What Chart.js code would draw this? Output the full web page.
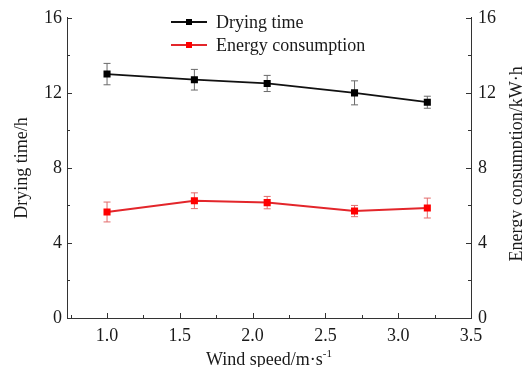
<!DOCTYPE html>
<html>
<head>
<meta charset="utf-8">
<script src="https://cdn.jsdelivr.net/npm/chart.js@4.4.1/dist/chart.umd.min.js"></script>
<style>
  html, body { margin: 0; padding: 0; background: #fff; }
  #wrap { width: 522px; height: 367px; }
</style>
</head>
<body>
<div id="wrap"><canvas id="c" width="522" height="367"></canvas></div>
<script>
// Wind speed (m/s) and the measured responses with their error bars
const windSpeed = [1.0, 1.6, 2.1, 2.7, 3.2];
const dryingTime = [13.0, 12.7, 12.5, 12.0, 11.5];
const dryingTimeErr = [0.57, 0.55, 0.43, 0.64, 0.32];
const energyUse = [5.65, 6.25, 6.15, 5.7, 5.86];
const energyUseErr = [0.53, 0.42, 0.33, 0.3, 0.53];

// Axis tick labels
const xTicks = [1.0, 1.5, 2.0, 2.5, 3.0, 3.5];
const xMinorTicks = [0.75, 1.25, 1.75, 2.25, 2.75, 3.25];
const yTicks = [0, 4, 8, 12, 16];
const yMinorTicks = [2, 6, 10, 14];

const FONT = '"Liberation Serif", "Times New Roman", serif';
const AXIS_COLOR = '#333';
const TEXT_COLOR = '#1a1a1a';

const toPoints = (ys) => windSpeed.map((x, i) => ({ x, y: ys[i] }));

// Vertical error bars with caps, drawn beneath lines and markers
const errorBars = {
  id: 'errorBars',
  beforeDatasetsDraw(chart) {
    const ctx = chart.ctx;
    const xs = chart.scales.x;
    chart.data.datasets.forEach((ds) => {
      const ys = chart.scales[ds.yAxisID];
      ctx.save();
      ctx.strokeStyle = ds.errColor;
      ctx.lineWidth = 1;
      ds.data.forEach((p, i) => {
        const e = ds.errors[i];
        const px = xs.getPixelForValue(p.x);
        const top = ys.getPixelForValue(p.y + e);
        const bot = ys.getPixelForValue(p.y - e);
        ctx.beginPath();
        ctx.moveTo(px, top); ctx.lineTo(px, bot);
        ctx.moveTo(px - 3.5, top); ctx.lineTo(px + 3.5, top);
        ctx.moveTo(px - 3.5, bot); ctx.lineTo(px + 3.5, bot);
        ctx.stroke();
      });
      ctx.restore();
    });
  }
};

// Inward-pointing major and minor tick marks on all three axes
const innerTicks = {
  id: 'innerTicks',
  afterDraw(chart) {
    const ctx = chart.ctx;
    const a = chart.chartArea;
    const { x, y, y1 } = chart.scales;
    ctx.save();
    ctx.strokeStyle = AXIS_COLOR;
    ctx.lineWidth = 1;
    ctx.beginPath();
    const vx = (v, len) => {
      const px = Math.round(x.getPixelForValue(v)) + 0.5;
      ctx.moveTo(px, a.bottom); ctx.lineTo(px, a.bottom - len);
    };
    const hy = (v, len) => {
      const py = Math.round(y.getPixelForValue(v)) + 0.5;
      ctx.moveTo(a.left, py); ctx.lineTo(a.left + len, py);
      const py1 = Math.round(y1.getPixelForValue(v)) + 0.5;
      ctx.moveTo(a.right, py1); ctx.lineTo(a.right - len, py1);
    };
    xTicks.forEach(v => vx(v, 5));
    xMinorTicks.forEach(v => vx(v, 3));
    yTicks.forEach(v => hy(v, 5));
    yMinorTicks.forEach(v => hy(v, 3));
    ctx.stroke();
    ctx.restore();
  }
};

// Axis titles and the in-plot legend
const annotations = {
  id: 'annotations',
  afterDraw(chart) {
    const ctx = chart.ctx;
    const a = chart.chartArea;
    const midX = (a.left + a.right) / 2;
    const midY = (a.top + a.bottom) / 2;
    ctx.save();
    ctx.fillStyle = TEXT_COLOR;

    // x-axis title with superscript exponent
    const main = 'Wind speed/m·s';
    const sup = '-1';
    ctx.font = '18px ' + FONT;
    const wMain = ctx.measureText(main).width;
    ctx.font = '11px ' + FONT;
    const wSup = ctx.measureText(sup).width;
    const startX = midX - (wMain + wSup) / 2;
    ctx.textBaseline = 'alphabetic';
    ctx.textAlign = 'left';
    ctx.font = '18px ' + FONT;
    ctx.fillText(main, startX, 365);
    ctx.font = '11px ' + FONT;
    ctx.fillText(sup, startX + wMain, 357);

    // left y-axis title
    ctx.font = '18px ' + FONT;
    ctx.textAlign = 'center';
    ctx.textBaseline = 'middle';
    ctx.save();
    ctx.translate(22, midY);
    ctx.rotate(-Math.PI / 2);
    ctx.fillText('Drying time/h', 0, 0);
    ctx.restore();

    // right y-axis title (runs off the canvas edge)
    ctx.save();
    ctx.translate(517, midY - 4);
    ctx.rotate(-Math.PI / 2);
    ctx.font = '18px ' + FONT;
    ctx.fillText('Energy consumption/kW·h', 0, 0);
    ctx.restore();

    // legend
    ctx.font = '18px ' + FONT;
    ctx.textAlign = 'left';
    ctx.textBaseline = 'middle';
    const rows = [
      { ds: chart.data.datasets[0], y: 22 },
      { ds: chart.data.datasets[1], y: 45 }
    ];
    rows.forEach(r => {
      ctx.strokeStyle = r.ds.borderColor;
      ctx.lineWidth = r.ds.borderWidth;
      ctx.beginPath();
      ctx.moveTo(171, r.y); ctx.lineTo(207, r.y);
      ctx.stroke();
      ctx.fillStyle = r.ds.pointBackgroundColor;
      ctx.fillRect(186, r.y - 3, 6, 6);
      ctx.fillStyle = TEXT_COLOR;
      ctx.fillText(r.ds.label, 216, r.y + 1);
    });
    ctx.restore();
  }
};

const tickFont = { family: FONT, size: 18 };

new Chart(document.getElementById('c'), {
  type: 'line',
  data: {
    datasets: [
      {
        label: 'Drying time',
        data: toPoints(dryingTime),
        errors: dryingTimeErr,
        errColor: '#6a6a6a',
        yAxisID: 'y',
        borderColor: '#111',
        borderWidth: 1.8,
        pointStyle: 'rect',
        pointRadius: 5,
        pointBackgroundColor: '#000',
        pointBorderColor: '#000',
        pointBorderWidth: 0,
        tension: 0
      },
      {
        label: 'Energy consumption',
        data: toPoints(energyUse),
        errors: energyUseErr,
        errColor: '#e36a6a',
        yAxisID: 'y1',
        borderColor: '#e3262b',
        borderWidth: 2,
        pointStyle: 'rect',
        pointRadius: 5,
        pointBackgroundColor: '#ff0000',
        pointBorderColor: '#ff0000',
        pointBorderWidth: 0,
        tension: 0
      }
    ]
  },
  options: {
    responsive: false,
    animation: false,
    devicePixelRatio: 1,
    layout: { padding: { top: 16, left: 0, right: 0, bottom: 0 } },
    plugins: { legend: { display: false }, tooltip: { enabled: false } },
    scales: {
      x: {
        type: 'linear',
        min: 0.725,
        max: 3.5,
        afterBuildTicks: (s) => { s.ticks = xTicks.map(v => ({ value: v })); },
        afterFit: (s) => { s.height = 49; },
        grid: { display: false, drawTicks: false },
        border: { display: true, color: AXIS_COLOR, width: 1 },
        ticks: {
          font: tickFont, color: TEXT_COLOR, padding: 7, maxRotation: 0,
          callback: (v) => Number(v).toFixed(1)
        }
      },
      y: {
        position: 'left',
        min: 0, max: 16,
        afterBuildTicks: (s) => { s.ticks = yTicks.map(v => ({ value: v })); },
        afterFit: (s) => { s.width = 67; },
        grid: { display: false, drawTicks: false },
        border: { display: true, color: AXIS_COLOR, width: 1 },
        ticks: { font: tickFont, color: TEXT_COLOR, padding: 5 }
      },
      y1: {
        position: 'right',
        min: 0, max: 16,
        afterBuildTicks: (s) => { s.ticks = yTicks.map(v => ({ value: v })); },
        afterFit: (s) => { s.width = 51; },
        grid: { display: false, drawTicks: false },
        border: { display: true, color: AXIS_COLOR, width: 1 },
        ticks: { font: tickFont, color: TEXT_COLOR, padding: 7 }
      }
    }
  },
  plugins: [errorBars, innerTicks, annotations]
});
</script>
</body>
</html>
